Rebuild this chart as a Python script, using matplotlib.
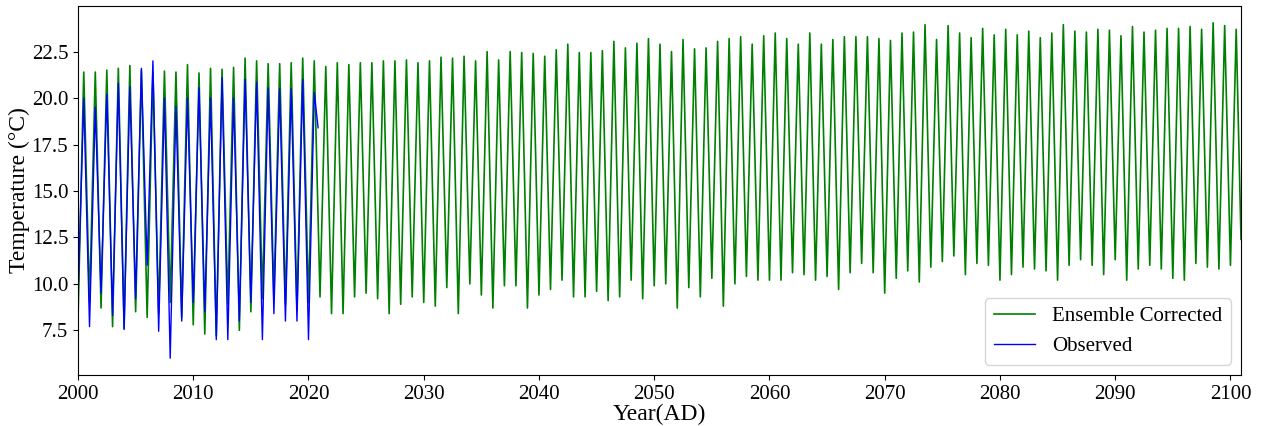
import numpy as np
import matplotlib
matplotlib.use("Agg")
import matplotlib.pyplot as plt

plt.rcParams['font.family'] = ['Liberation Serif', 'DejaVu Serif']

# ---- data (Jan troughs, Jul peaks) ----
green_years = list(range(2000, 2101))
green_trough = [8.1, 9.0, 8.7, 7.7, 7.6, 8.5, 8.2, 8.4, 9.0, 8.2,
                7.8, 7.3, 7.2, 8.9, 7.5, 8.5, 9.2, 9.2, 8.9, 8.6,
                9.0, 9.3, 8.4, 8.4, 9.3, 9.5, 9.2, 8.4, 8.9, 9.3,
                9.0, 8.8, 9.8, 8.4, 10.0, 9.4, 8.7, 9.9, 9.9, 8.7,
                9.4, 9.7, 10.2, 9.3, 9.3, 9.6, 9.1, 9.3, 10.2, 9.2,
                9.9, 10.0, 8.7, 9.8, 9.3, 10.3, 8.8, 10.0, 10.4, 10.2,
                10.2, 10.2, 10.6, 10.5, 10.2, 10.4, 9.7, 10.6, 11.1, 10.6,
                9.5, 10.3, 10.7, 10.1, 10.9, 11.2, 11.5, 10.5, 11.1, 11.0,
                10.2, 10.5, 10.9, 10.8, 10.7, 10.2, 11.0, 11.3, 11.0, 10.5,
                11.3, 10.2, 10.8, 11.0, 10.8, 10.3, 10.2, 11.1, 10.9, 10.8,
                11.0]
green_peak = [21.4, 21.4, 21.5, 21.6, 21.75, 21.5, 21.4, 21.45, 21.4, 21.8,
              21.35, 21.6, 21.55, 21.65, 22.15, 22.0, 21.85, 21.85, 21.9, 22.15,
              22.0, 21.7, 21.9, 21.8, 21.9, 21.9, 22.0, 22.0, 22.05, 21.9,
              22.0, 22.2, 22.15, 22.25, 22.0, 22.5, 22.05, 22.5, 22.45, 22.4,
              22.25, 22.6, 22.9, 22.45, 22.45, 22.55, 23.05, 22.7, 22.95, 23.2,
              22.9, 22.5, 23.15, 22.65, 22.7, 23.05, 23.2, 23.3, 22.9, 23.35,
              23.5, 23.2, 22.9, 23.5, 22.9, 23.15, 23.3, 23.3, 23.3, 23.2,
              23.1, 23.5, 23.55, 23.95, 23.15, 23.9, 23.5, 23.25, 23.75, 23.4,
              23.7, 23.4, 23.6, 23.25, 23.5, 23.95, 23.6, 23.55, 23.7, 23.65,
              23.35, 23.85, 23.55, 23.65, 23.75, 23.75, 23.85, 23.7, 24.05, 23.9,
              23.7]
green_last = 12.4          # Dec 2100

blue_years = list(range(2000, 2021))
blue_trough = [9.2, 7.7, 9.5, 8.3, 7.55, 9.2, 11.0, 7.45, 6.0, 8.0,
               9.0, 8.5, 7.0, 7.0, 8.0, 9.0, 7.0, 8.4, 8.0, 8.0, 7.0]
blue_peak = [20.0, 19.5, 20.2, 20.8, 20.6, 21.6, 22.0, 20.0, 19.55, 20.0,
             20.55, 20.0, 21.1, 20.0, 21.0, 20.85, 20.55, 20.5, 20.5, 21.0, 20.3]
blue_last = 18.4           # Nov 2020

TROUGH_MONTH, PEAK_MONTH = 0, 6


def build(years, trough, peak, last_month, last_val):
    t, v = [], []
    for y, lo, hi in zip(years, trough, peak):
        t += [y + TROUGH_MONTH / 12, y + PEAK_MONTH / 12]
        v += [lo, hi]
    t.append(years[-1] + last_month / 12)
    v.append(last_val)
    return np.array(t), np.array(v)


tg, vg = build(green_years, green_trough, green_peak, 11, green_last)
tb, vb = build(blue_years, blue_trough, blue_peak, 10, blue_last)

fig = plt.figure(figsize=(12.65, 4.26), dpi=100)
ax = fig.add_axes([78 / 1265, 1 - 375 / 426, (1241 - 78) / 1265, (375 - 6) / 426])
ax.plot(tg, vg, color='green', lw=1.2, label='Ensemble Corrected')
ax.plot(tb, vb, color='blue', lw=1.0, label='Observed')
ax.set_xlim(2000, tg[-1])
ax.set_xticks(range(2000, 2101, 10))
ax.set_yticks([7.5, 10.0, 12.5, 15.0, 17.5, 20.0, 22.5])
ax.tick_params(labelsize=15)
ax.set_xlabel('Year(AD)', fontsize=17, labelpad=0)
ax.set_ylabel('Temperature (°C)', fontsize=17, labelpad=1)
ax.legend(loc='lower right', fontsize=15)
fig.savefig('out.png', dpi=100)
